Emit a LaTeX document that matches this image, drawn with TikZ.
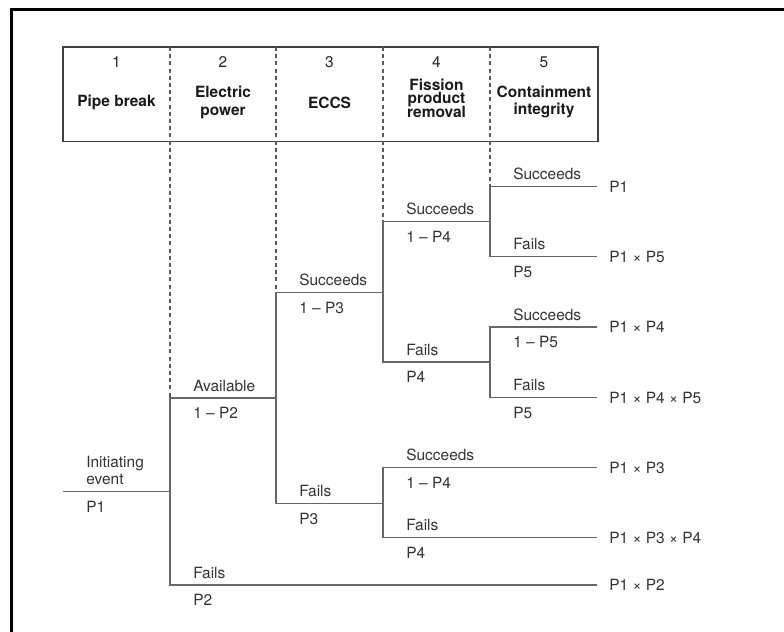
\documentclass[tikz,border=0pt]{standalone}
\usepackage{fontspec}
\setmainfont{TeX Gyre Heros}
\usetikzlibrary{positioning}

\begin{document}
\begin{tikzpicture}[x=0.25mm,y=-0.25mm,font=\fontsize{11}{13}\selectfont,
  frame/.style={line width=0.75mm},
  box/.style={draw=black!75,line width=0.35mm},
  sep/.style={black!65,line width=0.3mm,dash pattern=on 1mm off 0.8mm},
  br/.style={black!60,line width=0.3mm},
  lbl/.style={inner sep=0pt,text=black!80},
  res/.style={inner sep=0pt,text=black!80},
  num/.style={inner sep=0pt,text=black!85},
  ttl/.style={inner sep=0pt,align=center,text=black!90}]
\useasboundingbox (0,0) rectangle (784,632);
\draw[frame] (784,9.5) -| (11.5,632);
\draw[box] (63,47) rectangle (598,141.7);
\node[num] (n1) at (116.5,62.5) {1};
\node[num] (n2) at (223,62.5) {2};
\node[num] (n3) at (329.5,62.5) {3};
\node[num] (n4) at (436.5,62.5) {4};
\node[num] (n5) at (544,62.5) {5};
\node[ttl,font={\fontsize{11}{13}\selectfont\bfseries}] (t1) at (116.5,102.7) {Pipe break};
\node[ttl,font={\fontsize{11}{12.8}\selectfont\bfseries}] (t2) at (223,102.5) {Electric\\power};
\node[ttl,font={\fontsize{11}{13}\selectfont\bfseries}] (t3) at (329.5,102.7) {ECCS};
\node[ttl,font={\fontsize{11}{9.5}\selectfont\bfseries\lineskiplimit=-\maxdimen}] (t4) at (436.5,98.3) {Fission\\product\\removal};
\node[ttl,font={\fontsize{11}{11.9}\selectfont\bfseries}] (t5) at (544,101.7) {Containment\\integrity};
\coordinate (h2) at (170,47);
\coordinate (h3) at (276,47);
\coordinate (h4) at (383,47);
\coordinate (h5) at (490,47);
\coordinate (ie0) at (63,491.5);  \coordinate (ie1) at (170,491.5);
\coordinate (av0) at (170,398);   \coordinate (av1) at (276,398);
\coordinate (fp0) at (170,585);   \coordinate (fp1) at (597,585);
\coordinate (ec0) at (276,292.7); \coordinate (ec1) at (383,292.7);
\coordinate (ef0) at (276,503.3); \coordinate (ef1) at (383,503.3);
\coordinate (ra0) at (383,221.7); \coordinate (ra1) at (490,221.7);
\coordinate (rb0) at (383,362);   \coordinate (rb1) at (490,362);
\coordinate (rc0) at (383,467.7); \coordinate (rc1) at (597,467.7);
\coordinate (rd0) at (383,537.7); \coordinate (rd1) at (597,537.7);
\coordinate (ca0) at (490,186.7); \coordinate (ca1) at (597,186.7);
\coordinate (cb0) at (490,256.7); \coordinate (cb1) at (597,256.7);
\coordinate (cc0) at (490,327);   \coordinate (cc1) at (597,327);
\coordinate (cd0) at (490,397.7); \coordinate (cd1) at (597,397.7);
\draw[sep] (h2) -- (av0);
\draw[sep] (h3) -- (ec0);
\draw[sep] (h4) -- (ra0);
\draw[sep] (h5) -- (ca0);
\draw[br] (ie0) -- (ie1);
\draw[br] (av1) -- (av0) -- (fp0) -- (fp1);
\draw[br] (ec1) -- (ec0) -- (ef0) -- (ef1);
\draw[br] (ra1) -- (ra0) -- (rb0) -- (rb1);
\draw[br] (rc1) -- (rc0) -- (rd0) -- (rd1);
\draw[br] (ca1) -- (ca0) -- (cb0) -- (cb1);
\draw[br] (cc1) -- (cc0) -- (cd0) -- (cd1);
\node[lbl,align=left,font={\fontsize{11}{12}\selectfont},above right=1.6mm and 5.75mm of ie0] (tie) {Initiating\\event};
\node[lbl,below right=2.3mm and 5.75mm of ie0] (pie) {P1};
\node[lbl,above right=1.6mm and 5.75mm of av0] (tav) {Available};
\node[lbl,below right=2.3mm and 5.75mm of av0] (pav) {1 – P2};
\node[lbl,above right=1.6mm and 5.75mm of fp0] (tfp) {Fails};
\node[lbl,below right=2.3mm and 5.75mm of fp0] (pfp) {P2};
\node[lbl,above right=1.6mm and 5.75mm of ec0] (tec) {Succeeds};
\node[lbl,below right=2.3mm and 5.75mm of ec0] (pec) {1 – P3};
\node[lbl,above right=1.6mm and 5.75mm of ef0] (tef) {Fails};
\node[lbl,below right=2.3mm and 5.75mm of ef0] (pef) {P3};
\node[lbl,above right=1.6mm and 5.75mm of ra0] (tra) {Succeeds};
\node[lbl,below right=2.3mm and 5.75mm of ra0] (pra) {1 – P4};
\node[lbl,above right=1.6mm and 5.75mm of rb0] (trb) {Fails};
\node[lbl,below right=2.3mm and 5.75mm of rb0] (prb) {P4};
\node[lbl,above right=1.6mm and 5.75mm of rc0] (trc) {Succeeds};
\node[lbl,below right=2.3mm and 5.75mm of rc0] (prc) {1 – P4};
\node[lbl,above right=1.6mm and 5.75mm of rd0] (trd) {Fails};
\node[lbl,below right=2.3mm and 5.75mm of rd0] (prd) {P4};
\node[lbl,above right=1.6mm and 5.75mm of ca0] (tca) {Succeeds};
\node[lbl,above right=1.6mm and 5.75mm of cb0] (tcb) {Fails};
\node[lbl,below right=2.3mm and 5.75mm of cb0] (pcb) {P5};
\node[lbl,above right=1.6mm and 5.75mm of cc0] (tcc) {Succeeds};
\node[lbl,below right=2.3mm and 5.75mm of cc0] (pcc) {1 – P5};
\node[lbl,above right=1.6mm and 5.75mm of cd0] (tcd) {Fails};
\node[lbl,below right=2.3mm and 5.75mm of cd0] (pcd) {P5};
\node[res,right=3mm of ca1] (r1) {P1};
\node[res,right=3mm of cb1] (r2) {P1 × P5};
\node[res,right=3mm of cc1] (r3) {P1 × P4};
\node[res,right=3mm of cd1] (r4) {P1 × P4 × P5};
\node[res,right=3mm of rc1] (r5) {P1 × P3};
\node[res,right=3mm of rd1] (r6) {P1 × P3 × P4};
\node[res,right=3mm of fp1] (r7) {P1 × P2};
\end{tikzpicture}
\end{document}
